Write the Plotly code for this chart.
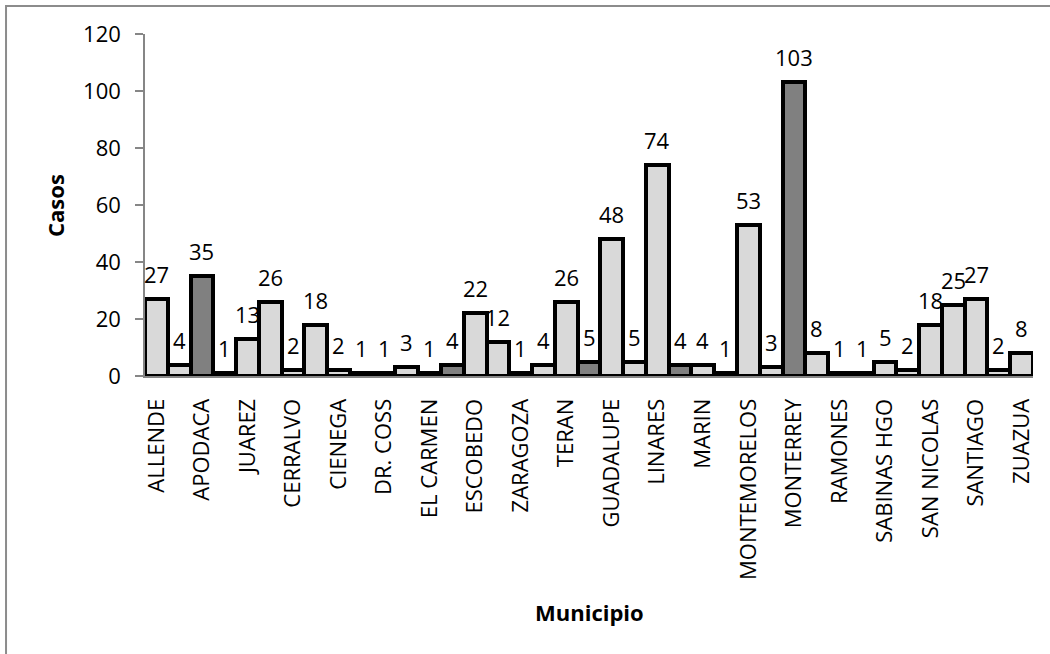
import plotly.graph_objects as go

# Casos por municipio (39 barras; sólo se rotula una de cada dos categorías)
valores = [27, 4, 35, 1, 13, 26, 2, 18, 2, 1, 1, 3, 1, 4, 22, 12, 1, 4, 26, 5,
           48, 5, 74, 4, 4, 1, 53, 3, 103, 8, 1, 1, 5, 2, 18, 25, 27, 2, 8]
municipios = ["ALLENDE", "APODACA", "JUAREZ", "CERRALVO", "CIENEGA", "DR. COSS",
              "EL CARMEN", "ESCOBEDO", "ZARAGOZA", "TERAN", "GUADALUPE", "LINARES",
              "MARIN", "MONTEMORELOS", "MONTERREY", "RAMONES", "SABINAS HGO",
              "SAN NICOLAS", "SANTIAGO", "ZUAZUA"]
posiciones = list(range(len(valores)))
posiciones_rotuladas = posiciones[::2]
resaltadas = {2, 13, 19, 23, 28}

FUENTE = "Open Sans"
GRIS_CLARO = "#d9d9d9"
GRIS_OSCURO = "#808080"
GRIS_EJE = "#868686"

colores = [GRIS_OSCURO if i in resaltadas else GRIS_CLARO for i in posiciones]

fig = go.Figure(
    go.Bar(
        x=posiciones,
        y=valores,
        marker=dict(color=colores, line=dict(color="black", width=4)),
        hoverinfo="skip",
    )
)

# Etiquetas de valor sobre cada barra
for x, v in zip(posiciones, valores):
    fig.add_annotation(
        x=x, y=v, xref="x", yref="y",
        text=str(v), showarrow=False,
        yanchor="bottom", yshift=8,
        font=dict(family=FUENTE, size=22, color="black"),
    )

# Títulos de los ejes
fig.add_annotation(
    x=0.5, y=-0.69, xref="paper", yref="paper",
    text="<b>Municipio</b>", showarrow=False,
    xanchor="center", yanchor="middle",
    font=dict(family=FUENTE, size=22, color="black"),
)
fig.add_annotation(
    x=-0.1014, y=0.5, xref="paper", yref="paper",
    text="<b>Casos</b>", showarrow=False, textangle=-90,
    xanchor="center", yanchor="middle",
    font=dict(family=FUENTE, size=22, color="black"),
)

# Marco del área del gráfico
fig.add_shape(
    type="rect", xref="paper", yref="paper",
    x0=-0.1565, y0=-1.2, x1=1.2, y1=1.0819,
    line=dict(color="#8c8c8c", width=2), fillcolor="rgba(0,0,0,0)",
    layer="below",
)

fig.update_layout(
    width=1050, height=654,
    margin=dict(l=145, r=17, t=34, b=278),
    paper_bgcolor="white", plot_bgcolor="white",
    bargap=0, showlegend=False,
    font=dict(family=FUENTE, size=22, color="black"),
)
fig.update_xaxes(
    range=[-0.5, len(valores) - 0.5],
    tickmode="array", tickvals=posiciones_rotuladas, ticktext=municipios,
    tickangle=-90, ticks="", ticklabelstandoff=12,
    showline=True, linecolor=GRIS_EJE, linewidth=2,
    showgrid=False, zeroline=False,
    tickfont=dict(family=FUENTE, size=22, color="black"),
)
fig.update_yaxes(
    range=[0, 120], tickmode="array", tickvals=[0, 20, 40, 60, 80, 100, 120],
    ticks="outside", ticklen=8, tickcolor=GRIS_EJE, tickwidth=1.5,
    ticklabelstandoff=10,
    showline=True, linecolor=GRIS_EJE, linewidth=1.5,
    showgrid=False, zeroline=False,
    tickfont=dict(family=FUENTE, size=22, color="black"),
)

fig.write_html("out.html")
